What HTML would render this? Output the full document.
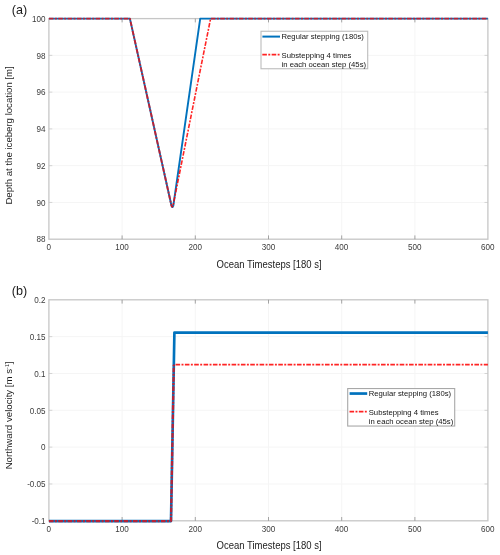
<!DOCTYPE html>
<html lang="en"><head><meta charset="utf-8"><title>Iceberg stepping comparison</title>
<style>html,body{margin:0;padding:0;background:#fff}body{width:500px;height:555px;overflow:hidden}svg{display:block}text{font-family:'Liberation Sans', Arial, Helvetica, sans-serif}</style></head><body>
<svg width="500" height="555" viewBox="0 0 500 555">
<defs><filter id="soft" x="0" y="0" width="500" height="555" filterUnits="userSpaceOnUse"><feGaussianBlur stdDeviation="0.4"/></filter></defs>
<rect x="0" y="0" width="500" height="555" fill="#ffffff"/>
<g filter="url(#soft)">
<g id="panel-a">
<line x1="122.10" y1="18.6" x2="122.10" y2="239.2" stroke="#f5f5f5" stroke-width="1"/>
<line x1="195.30" y1="18.6" x2="195.30" y2="239.2" stroke="#f5f5f5" stroke-width="1"/>
<line x1="268.50" y1="18.6" x2="268.50" y2="239.2" stroke="#f5f5f5" stroke-width="1"/>
<line x1="341.70" y1="18.6" x2="341.70" y2="239.2" stroke="#f5f5f5" stroke-width="1"/>
<line x1="414.90" y1="18.6" x2="414.90" y2="239.2" stroke="#f5f5f5" stroke-width="1"/>
<line x1="48.9" y1="55.37" x2="487.9" y2="55.37" stroke="#f5f5f5" stroke-width="1"/>
<line x1="48.9" y1="92.13" x2="487.9" y2="92.13" stroke="#f5f5f5" stroke-width="1"/>
<line x1="48.9" y1="128.90" x2="487.9" y2="128.90" stroke="#f5f5f5" stroke-width="1"/>
<line x1="48.9" y1="165.67" x2="487.9" y2="165.67" stroke="#f5f5f5" stroke-width="1"/>
<line x1="48.9" y1="202.43" x2="487.9" y2="202.43" stroke="#f5f5f5" stroke-width="1"/>
<rect x="48.9" y="18.6" width="439.00" height="220.60" fill="none" stroke="#c6c6c6" stroke-width="1.3"/>
<line x1="122.10" y1="239.2" x2="122.10" y2="235.39999999999998" stroke="#8e8e8e" stroke-width="0.8"/>
<line x1="122.10" y1="18.6" x2="122.10" y2="22.4" stroke="#8e8e8e" stroke-width="0.8"/>
<line x1="195.30" y1="239.2" x2="195.30" y2="235.39999999999998" stroke="#8e8e8e" stroke-width="0.8"/>
<line x1="195.30" y1="18.6" x2="195.30" y2="22.4" stroke="#8e8e8e" stroke-width="0.8"/>
<line x1="268.50" y1="239.2" x2="268.50" y2="235.39999999999998" stroke="#8e8e8e" stroke-width="0.8"/>
<line x1="268.50" y1="18.6" x2="268.50" y2="22.4" stroke="#8e8e8e" stroke-width="0.8"/>
<line x1="341.70" y1="239.2" x2="341.70" y2="235.39999999999998" stroke="#8e8e8e" stroke-width="0.8"/>
<line x1="341.70" y1="18.6" x2="341.70" y2="22.4" stroke="#8e8e8e" stroke-width="0.8"/>
<line x1="414.90" y1="239.2" x2="414.90" y2="235.39999999999998" stroke="#8e8e8e" stroke-width="0.8"/>
<line x1="414.90" y1="18.6" x2="414.90" y2="22.4" stroke="#8e8e8e" stroke-width="0.8"/>
<line x1="48.9" y1="55.37" x2="52.3" y2="55.37" stroke="#c4c4c4" stroke-width="0.7"/>
<line x1="487.9" y1="55.37" x2="484.5" y2="55.37" stroke="#c4c4c4" stroke-width="0.7"/>
<line x1="48.9" y1="92.13" x2="52.3" y2="92.13" stroke="#c4c4c4" stroke-width="0.7"/>
<line x1="487.9" y1="92.13" x2="484.5" y2="92.13" stroke="#c4c4c4" stroke-width="0.7"/>
<line x1="48.9" y1="128.90" x2="52.3" y2="128.90" stroke="#c4c4c4" stroke-width="0.7"/>
<line x1="487.9" y1="128.90" x2="484.5" y2="128.90" stroke="#c4c4c4" stroke-width="0.7"/>
<line x1="48.9" y1="165.67" x2="52.3" y2="165.67" stroke="#c4c4c4" stroke-width="0.7"/>
<line x1="487.9" y1="165.67" x2="484.5" y2="165.67" stroke="#c4c4c4" stroke-width="0.7"/>
<line x1="48.9" y1="202.43" x2="52.3" y2="202.43" stroke="#c4c4c4" stroke-width="0.7"/>
<line x1="487.9" y1="202.43" x2="484.5" y2="202.43" stroke="#c4c4c4" stroke-width="0.7"/>
<text transform="translate(45.60 21.80) scale(0.845 1)" font-size="9.6" fill="#3c3c3c" text-anchor="end">100</text>
<text transform="translate(45.60 58.57) scale(0.845 1)" font-size="9.6" fill="#3c3c3c" text-anchor="end">98</text>
<text transform="translate(45.60 95.33) scale(0.845 1)" font-size="9.6" fill="#3c3c3c" text-anchor="end">96</text>
<text transform="translate(45.60 132.10) scale(0.845 1)" font-size="9.6" fill="#3c3c3c" text-anchor="end">94</text>
<text transform="translate(45.60 168.87) scale(0.845 1)" font-size="9.6" fill="#3c3c3c" text-anchor="end">92</text>
<text transform="translate(45.60 205.63) scale(0.845 1)" font-size="9.6" fill="#3c3c3c" text-anchor="end">90</text>
<text transform="translate(45.60 242.40) scale(0.845 1)" font-size="9.6" fill="#3c3c3c" text-anchor="end">88</text>
<text transform="translate(48.80 250.40) scale(0.845 1)" font-size="9.6" fill="#3c3c3c" text-anchor="middle">0</text>
<text transform="translate(122.00 250.40) scale(0.845 1)" font-size="9.6" fill="#3c3c3c" text-anchor="middle">100</text>
<text transform="translate(195.20 250.40) scale(0.845 1)" font-size="9.6" fill="#3c3c3c" text-anchor="middle">200</text>
<text transform="translate(268.40 250.40) scale(0.845 1)" font-size="9.6" fill="#3c3c3c" text-anchor="middle">300</text>
<text transform="translate(341.60 250.40) scale(0.845 1)" font-size="9.6" fill="#3c3c3c" text-anchor="middle">400</text>
<text transform="translate(414.80 250.40) scale(0.845 1)" font-size="9.6" fill="#3c3c3c" text-anchor="middle">500</text>
<text transform="translate(487.80 250.40) scale(0.845 1)" font-size="9.6" fill="#3c3c3c" text-anchor="middle">600</text>
<text transform="translate(269.10 267.80) scale(0.94 1)" font-size="10.1" fill="#1c1c1c" text-anchor="middle">Ocean Timesteps [180 s]</text>
<text transform="translate(12.15 135.40) rotate(-90) scale(1.024 1)" font-size="9.4" fill="#1c1c1c" text-anchor="middle">Depth at the iceberg location [m]</text>
<text transform="translate(11.80 14.00) scale(0.97 1)" font-size="13.0" fill="#1a1a1a" text-anchor="start">(a)</text>
<polyline fill="none" stroke="#0072bd" stroke-width="1.9" stroke-linejoin="round" points="48.9,18.6 129.9,18.6 171.5,205.8 172.4,207.1 173.3,205.8 200.2,18.6 487.9,18.6"/>
<polyline fill="none" stroke="#ff0000" stroke-opacity="0.72" stroke-width="1.95" stroke-linejoin="round" stroke-dasharray="4.6 1.4 1.95 1.39" stroke-dashoffset="0.000" points="48.90,18.60 129.90,18.60 171.50,205.80 172.40,207.10"/>
<polyline fill="none" stroke="#ff0000" stroke-opacity="0.86" stroke-width="1.6" stroke-linejoin="round" stroke-dasharray="4.6 1.4 1.95 1.39" stroke-dashoffset="3.488" points="172.40,207.10 173.00,205.80 210.60,18.60"/>
<polyline fill="none" stroke="#ff0000" stroke-opacity="0.72" stroke-width="1.95" stroke-linejoin="round" stroke-dasharray="4.6 1.4 1.95 1.39" stroke-dashoffset="9.058" points="210.60,18.60 487.90,18.60"/>
<rect x="261.0" y="31.25" width="106.7" height="37.5" fill="#ffffff" stroke="#bcbcbc" stroke-width="1.1"/>
<line x1="262.40" y1="36.60" x2="280.00" y2="36.60" stroke="#0072bd" stroke-width="2"/>
<line x1="262.30" y1="54.60" x2="280.10" y2="54.60" stroke="#ff0000" stroke-opacity="0.86" stroke-width="1.8" stroke-dasharray="4.6 1.4 1.95 1.39"/>
<text transform="translate(281.50 39.40) scale(0.966 1)" font-size="8.0" fill="#141414" text-anchor="start">Regular stepping (180s)</text>
<text transform="translate(281.50 57.60) scale(0.966 1)" font-size="8.0" fill="#141414" text-anchor="start">Substepping 4 times</text>
<text transform="translate(281.50 67.00) scale(0.966 1)" font-size="8.0" fill="#141414" text-anchor="start">in each ocean step (45s)</text>
</g>
<g id="panel-b">
<line x1="122.10" y1="299.8" x2="122.10" y2="520.8" stroke="#f5f5f5" stroke-width="1"/>
<line x1="195.30" y1="299.8" x2="195.30" y2="520.8" stroke="#f5f5f5" stroke-width="1"/>
<line x1="268.50" y1="299.8" x2="268.50" y2="520.8" stroke="#f5f5f5" stroke-width="1"/>
<line x1="341.70" y1="299.8" x2="341.70" y2="520.8" stroke="#f5f5f5" stroke-width="1"/>
<line x1="414.90" y1="299.8" x2="414.90" y2="520.8" stroke="#f5f5f5" stroke-width="1"/>
<line x1="48.9" y1="336.63" x2="487.9" y2="336.63" stroke="#f5f5f5" stroke-width="1"/>
<line x1="48.9" y1="373.47" x2="487.9" y2="373.47" stroke="#f5f5f5" stroke-width="1"/>
<line x1="48.9" y1="410.30" x2="487.9" y2="410.30" stroke="#f5f5f5" stroke-width="1"/>
<line x1="48.9" y1="447.13" x2="487.9" y2="447.13" stroke="#f5f5f5" stroke-width="1"/>
<line x1="48.9" y1="483.97" x2="487.9" y2="483.97" stroke="#f5f5f5" stroke-width="1"/>
<rect x="48.9" y="299.8" width="439.00" height="221.00" fill="none" stroke="#c6c6c6" stroke-width="1.3"/>
<line x1="122.10" y1="520.8" x2="122.10" y2="517.0" stroke="#8e8e8e" stroke-width="0.8"/>
<line x1="122.10" y1="299.8" x2="122.10" y2="303.59999999999997" stroke="#8e8e8e" stroke-width="0.8"/>
<line x1="195.30" y1="520.8" x2="195.30" y2="517.0" stroke="#8e8e8e" stroke-width="0.8"/>
<line x1="195.30" y1="299.8" x2="195.30" y2="303.59999999999997" stroke="#8e8e8e" stroke-width="0.8"/>
<line x1="268.50" y1="520.8" x2="268.50" y2="517.0" stroke="#8e8e8e" stroke-width="0.8"/>
<line x1="268.50" y1="299.8" x2="268.50" y2="303.59999999999997" stroke="#8e8e8e" stroke-width="0.8"/>
<line x1="341.70" y1="520.8" x2="341.70" y2="517.0" stroke="#8e8e8e" stroke-width="0.8"/>
<line x1="341.70" y1="299.8" x2="341.70" y2="303.59999999999997" stroke="#8e8e8e" stroke-width="0.8"/>
<line x1="414.90" y1="520.8" x2="414.90" y2="517.0" stroke="#8e8e8e" stroke-width="0.8"/>
<line x1="414.90" y1="299.8" x2="414.90" y2="303.59999999999997" stroke="#8e8e8e" stroke-width="0.8"/>
<line x1="48.9" y1="336.63" x2="52.3" y2="336.63" stroke="#c4c4c4" stroke-width="0.7"/>
<line x1="487.9" y1="336.63" x2="484.5" y2="336.63" stroke="#c4c4c4" stroke-width="0.7"/>
<line x1="48.9" y1="373.47" x2="52.3" y2="373.47" stroke="#c4c4c4" stroke-width="0.7"/>
<line x1="487.9" y1="373.47" x2="484.5" y2="373.47" stroke="#c4c4c4" stroke-width="0.7"/>
<line x1="48.9" y1="410.30" x2="52.3" y2="410.30" stroke="#c4c4c4" stroke-width="0.7"/>
<line x1="487.9" y1="410.30" x2="484.5" y2="410.30" stroke="#c4c4c4" stroke-width="0.7"/>
<line x1="48.9" y1="447.13" x2="52.3" y2="447.13" stroke="#c4c4c4" stroke-width="0.7"/>
<line x1="487.9" y1="447.13" x2="484.5" y2="447.13" stroke="#c4c4c4" stroke-width="0.7"/>
<line x1="48.9" y1="483.97" x2="52.3" y2="483.97" stroke="#c4c4c4" stroke-width="0.7"/>
<line x1="487.9" y1="483.97" x2="484.5" y2="483.97" stroke="#c4c4c4" stroke-width="0.7"/>
<text transform="translate(45.60 303.00) scale(0.845 1)" font-size="9.6" fill="#3c3c3c" text-anchor="end">0.2</text>
<text transform="translate(45.60 339.83) scale(0.845 1)" font-size="9.6" fill="#3c3c3c" text-anchor="end">0.15</text>
<text transform="translate(45.60 376.67) scale(0.845 1)" font-size="9.6" fill="#3c3c3c" text-anchor="end">0.1</text>
<text transform="translate(45.60 413.50) scale(0.845 1)" font-size="9.6" fill="#3c3c3c" text-anchor="end">0.05</text>
<text transform="translate(45.60 450.33) scale(0.845 1)" font-size="9.6" fill="#3c3c3c" text-anchor="end">0</text>
<text transform="translate(45.60 487.17) scale(0.845 1)" font-size="9.6" fill="#3c3c3c" text-anchor="end">-0.05</text>
<text transform="translate(45.60 524.00) scale(0.845 1)" font-size="9.6" fill="#3c3c3c" text-anchor="end">-0.1</text>
<text transform="translate(48.80 532.00) scale(0.845 1)" font-size="9.6" fill="#3c3c3c" text-anchor="middle">0</text>
<text transform="translate(122.00 532.00) scale(0.845 1)" font-size="9.6" fill="#3c3c3c" text-anchor="middle">100</text>
<text transform="translate(195.20 532.00) scale(0.845 1)" font-size="9.6" fill="#3c3c3c" text-anchor="middle">200</text>
<text transform="translate(268.40 532.00) scale(0.845 1)" font-size="9.6" fill="#3c3c3c" text-anchor="middle">300</text>
<text transform="translate(341.60 532.00) scale(0.845 1)" font-size="9.6" fill="#3c3c3c" text-anchor="middle">400</text>
<text transform="translate(414.80 532.00) scale(0.845 1)" font-size="9.6" fill="#3c3c3c" text-anchor="middle">500</text>
<text transform="translate(487.80 532.00) scale(0.845 1)" font-size="9.6" fill="#3c3c3c" text-anchor="middle">600</text>
<text transform="translate(269.10 549.40) scale(0.94 1)" font-size="10.1" fill="#1c1c1c" text-anchor="middle">Ocean Timesteps [180 s]</text>
<text transform="translate(12.15 415.40) rotate(-90) scale(1.03 1)" font-size="9.4" fill="#1c1c1c" text-anchor="middle">Northward velocity [m s<tspan dy="-3.6" font-size="5.2">-1</tspan><tspan dy="3.6">]</tspan></text>
<text transform="translate(11.80 295.40) scale(0.97 1)" font-size="13.0" fill="#1a1a1a" text-anchor="start">(b)</text>
<polyline fill="none" stroke="#0072bd" stroke-width="2.65" stroke-linejoin="round" points="48.9,521.05 171,521.05 174.4,332.6 487.9,332.6"/>
<polyline fill="none" stroke="#ff0000" stroke-opacity="0.72" stroke-width="2.3" stroke-linejoin="round" stroke-dasharray="4.6 1.4 1.95 1.39" stroke-dashoffset="0.000" points="48.90,521.05 171.00,521.05 173.80,364.70"/>
<polyline fill="none" stroke="#ff0000" stroke-opacity="0.86" stroke-width="1.7" stroke-linejoin="round" stroke-dasharray="4.6 1.4 1.95 1.39" stroke-dashoffset="7.615" points="173.80,364.70 487.90,364.70"/>
<rect x="347.7" y="388.55" width="107.0" height="37.5" fill="#ffffff" stroke="#a8a8a8" stroke-width="1.1"/>
<line x1="349.60" y1="393.55" x2="367.20" y2="393.55" stroke="#0072bd" stroke-width="2.7"/>
<line x1="349.50" y1="411.55" x2="367.30" y2="411.55" stroke="#ff0000" stroke-opacity="0.86" stroke-width="1.8" stroke-dasharray="4.6 1.4 1.95 1.39"/>
<text transform="translate(368.70 396.35) scale(0.966 1)" font-size="8.0" fill="#141414" text-anchor="start">Regular stepping (180s)</text>
<text transform="translate(368.70 414.55) scale(0.966 1)" font-size="8.0" fill="#141414" text-anchor="start">Substepping 4 times</text>
<text transform="translate(368.70 423.95) scale(0.966 1)" font-size="8.0" fill="#141414" text-anchor="start">in each ocean step (45s)</text>
</g>
</g>
</svg></body></html>
